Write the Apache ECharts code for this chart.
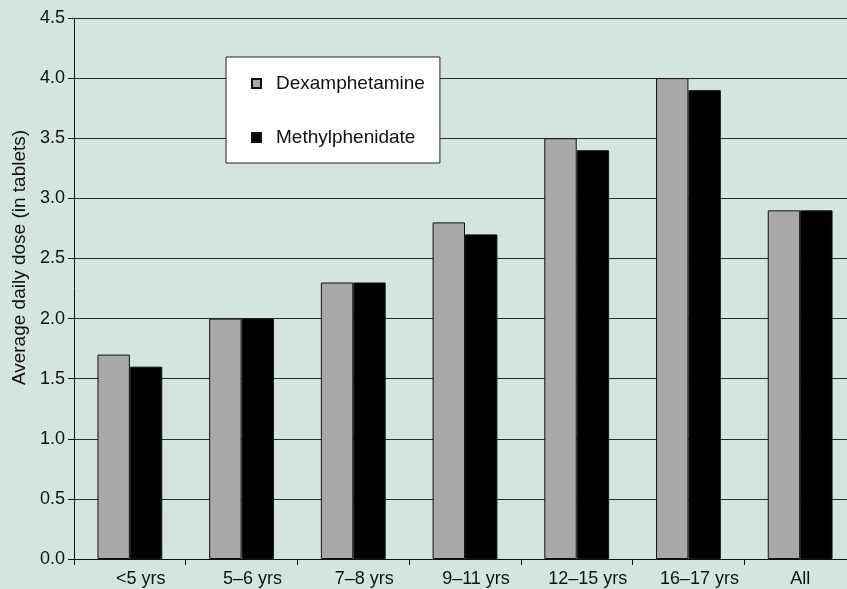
<!DOCTYPE html>
<html><head><meta charset="utf-8">
<script src="https://cdn.jsdelivr.net/npm/echarts@6/dist/echarts.min.js"></script>
<style>html,body{margin:0;padding:0;background:#d6e4e1}#c{width:847px;height:589px}</style>
</head><body><div id="c"></div>
<script>
const categories = ['<5 yrs','5–6 yrs','7–8 yrs','9–11 yrs','12–15 yrs','16–17 yrs','All'];
const dexamphetamine = [1.7, 2.0, 2.3, 2.8, 3.5, 4.0, 2.9];
const methylphenidate = [1.6, 2.0, 2.3, 2.7, 3.4, 3.9, 2.9];
const yTicks = { min: 0, max: 4.5, interval: 0.5 };

const chart = echarts.init(document.getElementById('c'), null, {renderer:'canvas'});
const font = 'Liberation Sans, Arial, sans-serif';
chart.setOption({
  backgroundColor: '#d6e4e1',
  animation: false,
  textStyle: { fontFamily: font },
  grid: { left: 74, top: 18, bottom: 30, width: 782, containLabel: false, outerBoundsMode: 'none' },
  legend: {
    orient: 'vertical', left: 226, top: 57,
    backgroundColor: '#ffffff', borderColor: '#222', borderWidth: 1,
    padding: [17, 15, 16, 25], itemGap: 35,
    itemWidth: 9, itemHeight: 9, icon: 'rect',
    textStyle: { fontFamily: font, fontSize: 19, color: '#111', padding: [0, 0, 0, 10] },
    data: ['Dexamphetamine', 'Methylphenidate']
  },
  xAxis: {
    type: 'category', data: categories,
    axisLine: { lineStyle: { color: '#111', width: 1 } },
    axisTick: { show: true, length: 6, lineStyle: { color: '#111' } },
    axisLabel: {
      interval: 0, hideOverlap: false,
      fontFamily: font, fontSize: 18, color: '#111', margin: 11,
      formatter: v => v === 'All' ? v : '{s|' + v + '}',
      rich: { s: { fontFamily: font, fontSize: 18, color: '#111', padding: [0, 0, 0, 22] } }
    }
  },
  yAxis: {
    type: 'value', min: yTicks.min, max: yTicks.max, interval: yTicks.interval,
    name: 'Average daily dose (in tablets)', nameLocation: 'middle', nameGap: 45,
    nameTextStyle: { fontFamily: font, fontSize: 19, color: '#111', padding: [0, 0, 0, 62] },
    axisLine: { show: true, lineStyle: { color: '#111', width: 1 } },
    axisTick: { show: true, length: 6, lineStyle: { color: '#111' } },
    axisLabel: { fontFamily: font, fontSize: 18, color: '#111', margin: 9, formatter: v => v.toFixed(1) },
    splitLine: { show: true, lineStyle: { color: '#2a2a2a', width: 1 } }
  },
  series: [
    { name: 'Dexamphetamine', type: 'bar', data: dexamphetamine, barGap: '0%', barCategoryGap: '42%',
      itemStyle: { color: '#a9a9a9', borderColor: '#111', borderWidth: 1 } },
    { name: 'Methylphenidate', type: 'bar', data: methylphenidate,
      itemStyle: { color: '#000000', borderColor: '#111', borderWidth: 1 } }
  ]
});
</script></body></html>
